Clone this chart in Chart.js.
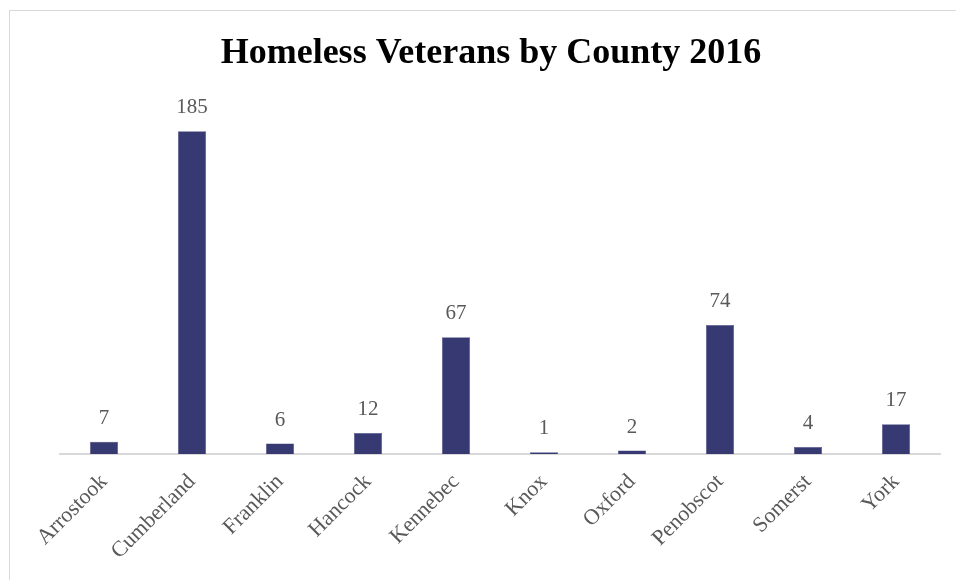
<!DOCTYPE html>
<html lang="en">
<head>
    <meta charset="UTF-8">
    <title>Homeless Veterans by County 2016</title>
    <script src="https://cdn.jsdelivr.net/npm/chart.js"></script>
    <style>
        body {
            margin: 0;
            background: #ffffff;
            overflow: hidden;
        }
        .frame {
            position: absolute;
            left: 9px;
            top: 10px;
            width: 1000px;
            height: 600px;
            border: 1px solid #d9d9d9;
            box-sizing: border-box;
        }
        #vetChart {
            position: absolute;
            left: 0;
            top: 0;
        }
    </style>
</head>
<body>
    <div class="frame"></div>
    <canvas id="vetChart" width="956" height="580"></canvas>

    <script>
        // counties and homeless veteran counts
        const counties = ['Arrostook', 'Cumberland', 'Franklin', 'Hancock', 'Kennebec',
                          'Knox', 'Oxford', 'Penobscot', 'Somerst', 'York'];
        const veterans = [7, 185, 6, 12, 67, 1, 2, 74, 4, 17];

        const serif = '"Liberation Serif", "DejaVu Serif", serif';
        const grey = '#595959';

        // value labels above each bar
        const valueLabels = {
            id: 'valueLabels',
            afterDatasetsDraw(chart) {
                const ctx = chart.ctx;
                const meta = chart.getDatasetMeta(0);
                ctx.save();
                ctx.font = '21px ' + serif;
                ctx.fillStyle = grey;
                ctx.textAlign = 'center';
                ctx.textBaseline = 'bottom';
                meta.data.forEach((bar, i) => {
                    ctx.fillText(veterans[i], bar.x, bar.y - 13);
                });
                ctx.restore();
            }
        };

        const ctx = document.getElementById('vetChart').getContext('2d');
        const vetChart = new Chart(ctx, {
            type: 'bar',
            data: {
                labels: counties,
                datasets: [{
                    label: 'Homeless Veterans',
                    data: veterans,
                    backgroundColor: '#373a72',
                    borderColor: '#4a4e86',
                    borderWidth: 0.5,
                    barPercentage: 0.64,
                    categoryPercentage: 0.5
                }]
            },
            options: {
                responsive: false,
                animation: false,
                layout: {
                    padding: { left: 42, right: 16, top: 10, bottom: 4 }
                },
                plugins: {
                    legend: { display: false },
                    tooltip: { enabled: false },
                    title: {
                        display: true,
                        text: 'Homeless Veterans by County 2016',
                        color: '#000000',
                        font: { family: serif, size: 36, weight: 'bold' },
                        padding: { top: 22, bottom: 30 }
                    }
                },
                scales: {
                    x: {
                        grid: { display: false },
                        border: { color: '#d9d9d9', width: 2 },
                        ticks: {
                            color: grey,
                            font: { family: serif, size: 22 },
                            minRotation: 45,
                            maxRotation: 45,
                            padding: 7
                        },
                        afterFit(scale) {
                            scale.paddingLeft = 0;
                            scale.paddingRight = 0;
                            scale.height = 122;
                        }
                    },
                    y: {
                        min: 0,
                        max: 200,
                        grid: { display: false },
                        border: { display: false },
                        ticks: { display: false },
                        // empty gutter so the plot starts at the same place as the original
                        afterFit(scale) {
                            scale.width = 18;
                        }
                    }
                }
            },
            plugins: [valueLabels]
        });
    </script>
</body>
</html>
